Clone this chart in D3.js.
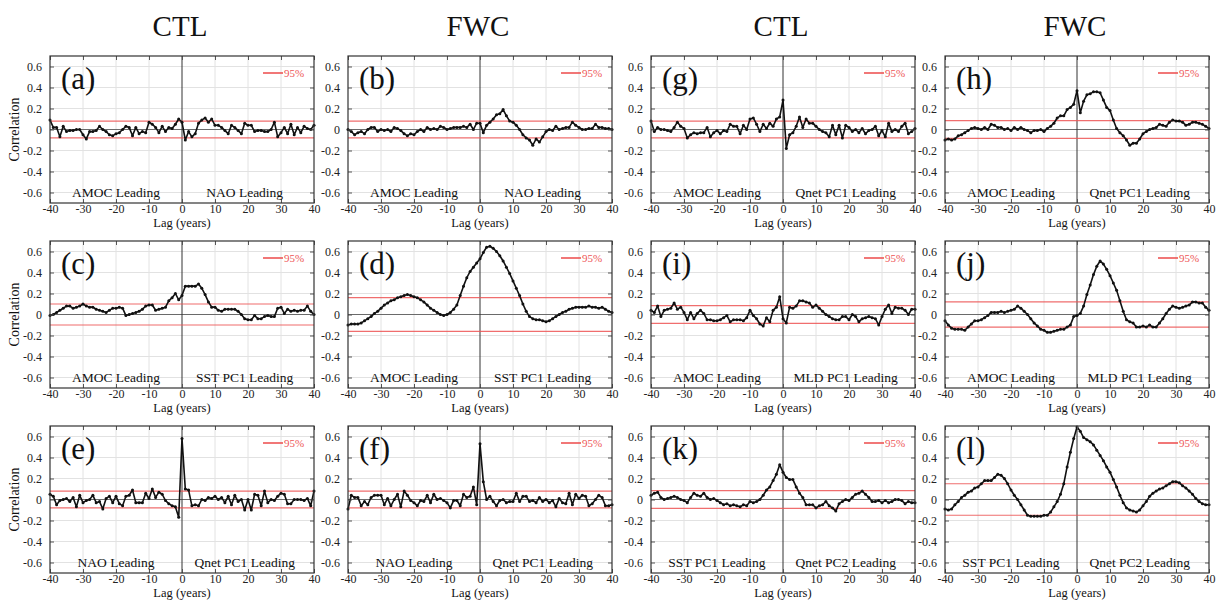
<!DOCTYPE html>
<html>
<head>
<meta charset="utf-8">
<script src="https://cdn.jsdelivr.net/npm/d3@7"></script>
<style>
  body { margin: 0; background: #fff; }
  svg { display: block; }
  text { font-family: "Liberation Serif", "Times New Roman", serif; }
</style>
</head>
<body>
<svg id="chart" width="1216" height="600"></svg>
<script>
// Lagged correlations, lag in years (-40 .. 40)
const lags = d3.range(-40, 41);
const xTicks = [-40, -30, -20, -10, 0, 10, 20, 30, 40];
const yTicks = [-0.6, -0.4, -0.2, 0, 0.2, 0.4, 0.6];
const gridX = [-30, -20, -10, 10, 20, 30];
const gridY = [-0.6, -0.4, -0.2, 0.2, 0.4, 0.6];
const columnTitles = ["CTL", "FWC", "CTL", "FWC"];

const panelIds = ["a", "b", "c", "d", "e", "f", "g", "h", "i", "j", "k", "l"];
const sig95 = [0.08, 0.08, 0.10, 0.16, 0.08, 0.08, 0.08, 0.085, 0.085, 0.12, 0.085, 0.15];
const leftLabels = ["AMOC Leading", "AMOC Leading", "AMOC Leading", "AMOC Leading", "NAO Leading", "NAO Leading",
                    "AMOC Leading", "AMOC Leading", "AMOC Leading", "AMOC Leading", "SST PC1 Leading", "SST PC1 Leading"];
const rightLabels = ["NAO Leading", "NAO Leading", "SST PC1 Leading", "SST PC1 Leading", "Qnet PC1 Leading", "Qnet PC1 Leading",
                     "Qnet PC1 Leading", "Qnet PC1 Leading", "MLD PC1 Leading", "MLD PC1 Leading", "Qnet PC2 Leading", "Qnet PC2 Leading"];

// (a) CTL: AMOC vs NAO
const corrA = [
  0.09, 0.02, 0.02, -0.07, 0.03, -0.02, -0.01, -0.01, 0.00, 0.00,
  -0.05, -0.09, -0.02, -0.02, -0.01, 0.03, 0.00, -0.02, -0.05, -0.06,
  -0.04, -0.03, 0.00, 0.03, 0.02, -0.06, 0.02, -0.04, -0.02, -0.03,
  0.07, 0.05, 0.02, -0.03, 0.03, -0.02, 0.02, 0.01, 0.05, 0.10,
  0.07,
  -0.10, -0.02, -0.07, -0.04, 0.06, 0.09, 0.11, 0.07, 0.10, 0.04,
  0.04, 0.02, -0.01, -0.04, 0.04, 0.02, -0.01, -0.04, 0.06, 0.04,
  0.04, -0.02, -0.01, -0.01, -0.02, -0.02, 0.00, 0.07, -0.07, -0.03,
  0.02, -0.04, 0.05, -0.05, 0.02, -0.03, 0.03, 0.01, 0.00, 0.04];

// (b) FWC: AMOC vs NAO
const corrB = [
  0.00, -0.02, -0.05, -0.03, -0.02, -0.04, 0.00, 0.02, 0.02, -0.02,
  0.00, -0.01, 0.00, -0.02, 0.02, 0.01, -0.01, -0.04, -0.06, -0.04,
  -0.05, -0.02, 0.00, -0.02, 0.02, 0.00, 0.01, 0.00, 0.03, 0.02,
  0.00, 0.01, 0.02, 0.02, 0.02, 0.03, 0.02, 0.05, 0.00, 0.06,
  0.06,
  -0.03, 0.04, 0.07, 0.10, 0.14, 0.15, 0.19, 0.13, 0.08, 0.07,
  0.04, 0.00, -0.05, -0.08, -0.10, -0.15, -0.09, -0.12, -0.07, -0.02,
  0.00, -0.01, 0.03, 0.00, 0.01, 0.02, 0.02, 0.07, 0.04, 0.02,
  0.00, 0.00, 0.01, 0.01, 0.05, 0.02, 0.02, 0.01, 0.01, 0.00];

// (c) CTL: AMOC vs SST PC1
const corrC = [
  -0.01, 0.00, 0.02, 0.04, 0.06, 0.08, 0.08, 0.06, 0.07, 0.08,
  0.10, 0.08, 0.07, 0.07, 0.05, 0.04, 0.03, 0.02, 0.04, 0.06,
  0.06, 0.07, 0.06, -0.01, 0.00, 0.01, 0.02, 0.03, 0.05, 0.08,
  0.09, 0.09, 0.04, 0.05, 0.06, 0.07, 0.13, 0.16, 0.20, 0.14,
  0.18,
  0.27, 0.27, 0.27, 0.27, 0.29, 0.25, 0.19, 0.12, 0.07, 0.07,
  0.04, 0.03, 0.05, 0.05, 0.05, 0.05, 0.03, 0.00, -0.04, -0.05,
  -0.05, -0.01, -0.04, -0.04, -0.02, -0.01, -0.02, -0.02, 0.06, 0.07,
  0.01, 0.05, 0.03, 0.04, 0.03, 0.04, 0.04, 0.08, 0.03, 0.00];

// (d) FWC: AMOC vs SST PC1
const corrD = [
  -0.10, -0.09, -0.09, -0.09, -0.08, -0.06, -0.04, -0.02, 0.01, 0.03,
  0.06, 0.09, 0.11, 0.13, 0.14, 0.16, 0.17, 0.18, 0.19, 0.18,
  0.17, 0.16, 0.14, 0.12, 0.09, 0.06, 0.04, 0.02, 0.00, -0.01,
  0.00, 0.02, 0.05, 0.09, 0.18, 0.27, 0.35, 0.41, 0.45, 0.49,
  0.53,
  0.59, 0.64, 0.65, 0.63, 0.60, 0.56, 0.51, 0.45, 0.39, 0.32,
  0.25, 0.18, 0.10, 0.03, -0.02, -0.04, -0.05, -0.05, -0.06, -0.07,
  -0.06, -0.04, -0.02, 0.00, 0.02, 0.03, 0.05, 0.06, 0.07, 0.07,
  0.07, 0.07, 0.08, 0.07, 0.07, 0.06, 0.07, 0.05, 0.03, 0.02];

// (e) CTL: NAO vs Qnet PC1
const corrE = [
  0.05, 0.03, -0.05, -0.01, 0.00, 0.01, -0.02, 0.02, -0.07, 0.04,
  -0.03, -0.01, 0.00, 0.04, -0.03, -0.02, -0.09, 0.01, 0.03, -0.03,
  0.03, -0.04, -0.06, 0.03, 0.04, 0.09, -0.03, -0.03, -0.03, 0.06,
  0.01, 0.10, 0.02, 0.07, 0.05, -0.01, -0.04, -0.06, -0.07, -0.17,
  0.58,
  0.10, 0.09, -0.06, -0.05, -0.06, 0.00, -0.01, 0.02, 0.01, 0.03,
  0.00, 0.02, -0.03, 0.03, -0.05, 0.04, -0.02, 0.00, -0.10, 0.00,
  -0.10, 0.05, 0.04, -0.06, 0.08, -0.03, 0.00, -0.01, 0.03, 0.06,
  0.05, -0.04, -0.04, 0.00, 0.00, 0.00, -0.01, 0.01, -0.06, 0.08];

// (f) FWC: NAO vs Qnet PC1
const corrF = [
  -0.09, 0.04, 0.02, 0.02, -0.06, -0.02, -0.05, 0.02, 0.04, 0.04,
  0.04, -0.05, 0.01, -0.06, 0.00, 0.05, -0.07, 0.08, 0.04, -0.01,
  -0.03, -0.06, -0.01, -0.02, 0.04, -0.03, 0.05, 0.00, 0.01, -0.01,
  -0.03, -0.08, -0.01, -0.01, -0.06, 0.05, 0.02, 0.03, 0.12, -0.05,
  0.53,
  0.17, 0.00, 0.03, -0.02, -0.06, -0.01, 0.00, -0.03, -0.02, -0.02,
  0.06, -0.02, 0.03, 0.03, -0.02, -0.01, -0.03, 0.02, -0.02, 0.00,
  -0.03, -0.01, -0.07, 0.01, -0.03, -0.04, 0.06, -0.05, 0.05, 0.01,
  0.04, 0.03, -0.06, -0.04, 0.00, 0.04, 0.02, -0.06, -0.06, -0.05];

// (g) CTL: AMOC vs Qnet PC1
const corrG = [
  0.08, -0.02, 0.02, 0.00, 0.00, -0.01, -0.02, 0.02, 0.07, 0.03,
  0.01, -0.08, -0.05, -0.03, -0.04, -0.03, -0.03, 0.02, -0.07, -0.03,
  -0.01, -0.04, -0.01, -0.02, 0.05, 0.03, 0.03, -0.04, 0.04, 0.00,
  0.10, 0.11, 0.05, -0.02, 0.05, 0.01, 0.06, 0.03, 0.10, 0.12,
  0.28,
  -0.18, -0.05, -0.03, 0.03, 0.12, 0.02, 0.10, 0.06, 0.06, 0.03,
  0.00, -0.02, -0.03, -0.07, 0.04, -0.05, 0.04, -0.08, 0.04, 0.02,
  -0.02, 0.00, -0.03, 0.01, -0.04, -0.01, 0.00, 0.03, -0.06, -0.01,
  -0.07, 0.06, -0.02, 0.00, -0.02, 0.03, 0.06, -0.04, -0.02, 0.01];

// (h) FWC: AMOC vs Qnet PC1
const corrH = [
  -0.10, -0.09, -0.10, -0.09, -0.06, -0.05, -0.03, -0.01, 0.01, 0.02,
  0.01, 0.00, 0.02, 0.00, 0.05, 0.04, 0.02, 0.02, 0.00, 0.01,
  -0.01, 0.02, 0.00, 0.02, 0.00, -0.01, -0.03, -0.01, -0.01, 0.00,
  -0.02, 0.01, 0.03, 0.06, 0.11, 0.13, 0.13, 0.19, 0.21, 0.24,
  0.37,
  0.16, 0.27, 0.33, 0.34, 0.36, 0.36, 0.35, 0.28, 0.21, 0.18,
  0.09, 0.01, -0.03, -0.06, -0.10, -0.15, -0.13, -0.13, -0.09, -0.04,
  -0.02, 0.00, 0.01, 0.02, 0.05, 0.04, 0.03, 0.07, 0.09, 0.08,
  0.08, 0.07, 0.04, 0.05, 0.07, 0.07, 0.06, 0.05, 0.03, 0.01];

// (i) CTL: AMOC vs MLD PC1
const corrI = [
  0.04, 0.02, 0.08, -0.02, 0.04, 0.05, 0.06, 0.11, 0.05, 0.07,
  0.02, -0.05, 0.02, -0.04, 0.01, 0.04, 0.01, -0.05, -0.05, -0.06,
  -0.06, -0.05, -0.03, -0.01, -0.07, -0.05, -0.05, -0.05, -0.06, -0.03,
  0.04, -0.01, -0.04, -0.09, -0.11, -0.03, -0.07, 0.04, 0.07, 0.17,
  -0.04,
  -0.08, 0.07, 0.06, 0.08, 0.13, 0.13, 0.12, 0.11, 0.07, 0.09,
  0.06, 0.03, 0.00, -0.02, -0.04, -0.05, -0.05, -0.02, -0.02, -0.05,
  0.00, -0.02, -0.07, -0.04, -0.03, -0.02, -0.03, -0.04, -0.10, -0.02,
  0.05, 0.09, 0.01, 0.07, 0.06, 0.06, 0.04, 0.00, 0.05, 0.05];

// (j) FWC: AMOC vs MLD PC1
const corrJ = [
  -0.06, -0.10, -0.13, -0.14, -0.14, -0.14, -0.15, -0.12, -0.09, -0.06,
  -0.06, -0.05, -0.03, -0.01, 0.02, 0.02, 0.02, 0.03, 0.02, 0.03,
  0.04, 0.05, 0.08, 0.06, 0.03, 0.00, -0.04, -0.08, -0.11, -0.14,
  -0.15, -0.17, -0.17, -0.16, -0.15, -0.14, -0.14, -0.12, -0.10, -0.02,
  -0.01,
  0.01, 0.08, 0.19, 0.28, 0.38, 0.46, 0.51, 0.48, 0.43, 0.37,
  0.30, 0.23, 0.13, 0.03, -0.05, -0.07, -0.08, -0.12, -0.12, -0.11,
  -0.12, -0.10, -0.12, -0.12, -0.08, -0.04, 0.01, 0.05, 0.08, 0.07,
  0.06, 0.07, 0.08, 0.09, 0.12, 0.12, 0.11, 0.11, 0.07, 0.04];

// (k) CTL: SST PC1 vs Qnet PC2
const corrK = [
  0.04, 0.06, 0.07, 0.02, 0.00, 0.01, 0.02, 0.03, 0.02, 0.00,
  -0.01, -0.03, 0.02, 0.06, 0.04, 0.03, 0.06, 0.02, 0.00, 0.01,
  -0.01, -0.03, -0.05, -0.04, -0.06, -0.05, -0.06, -0.07, -0.05, -0.06,
  -0.02, -0.03, -0.02, 0.00, 0.04, 0.09, 0.12, 0.18, 0.24, 0.33,
  0.26,
  0.21, 0.19, 0.19, 0.12, 0.06, 0.02, -0.05, -0.05, -0.05, -0.08,
  -0.06, -0.05, -0.02, -0.06, -0.08, -0.11, -0.04, -0.02, 0.00, -0.01,
  0.02, 0.05, 0.06, 0.08, 0.05, 0.02, -0.02, -0.02, -0.01, -0.03,
  -0.01, -0.03, -0.02, 0.00, 0.00, -0.01, -0.04, -0.02, -0.03, -0.03];

// (l) FWC: SST PC1 vs Qnet PC2
const corrL = [
  -0.09, -0.10, -0.09, -0.05, -0.02, 0.02, 0.04, 0.07, 0.08, 0.11,
  0.12, 0.15, 0.18, 0.18, 0.18, 0.21, 0.24, 0.23, 0.20, 0.15,
  0.09, 0.04, 0.00, -0.05, -0.10, -0.15, -0.16, -0.16, -0.16, -0.16,
  -0.15, -0.15, -0.12, -0.07, -0.02, 0.05, 0.15, 0.31, 0.45, 0.58,
  0.69,
  0.65, 0.59, 0.57, 0.55, 0.52, 0.47, 0.42, 0.37, 0.31, 0.26,
  0.19, 0.12, 0.04, -0.03, -0.08, -0.10, -0.11, -0.12, -0.10, -0.06,
  -0.02, 0.03, 0.06, 0.08, 0.10, 0.11, 0.13, 0.15, 0.17, 0.17,
  0.16, 0.13, 0.11, 0.08, 0.05, 0.01, -0.02, -0.04, -0.05, -0.05];

const series = [corrA, corrB, corrC, corrD, corrE, corrF, corrG, corrH, corrI, corrJ, corrK, corrL];

// ---- layout ----
const colLeft = [50, 348, 651, 945];
const rowTop = [56, 241, 426];
const plotW = 264, plotH = 147;
const red = "#ee5555";
const serif = '"Liberation Serif", "Times New Roman", serif';

const svg = d3.select("#chart");

// column titles
columnTitles.forEach((t, c) => {
  svg.append("text")
    .attr("x", colLeft[c] + plotW / 2 - 2)
    .attr("y", 36)
    .attr("text-anchor", "middle")
    .attr("font-size", 29)
    .attr("fill", "#111")
    .text(t);
});

const x = d3.scaleLinear().domain([-40, 40]).range([0, plotW]);
const y = d3.scaleLinear().domain([-0.7, 0.7]).range([plotH, 0]);

panelIds.forEach((id, i) => {
  const k = i < 6 ? i : i - 6;
  const row = Math.floor(k / 2);
  const col = (i < 6 ? 0 : 2) + (k % 2);
  const g = svg.append("g").attr("transform", `translate(${colLeft[col]},${rowTop[row]})`);
  const vals = series[i];
  const pts = lags.map((l, j) => ({ lag: l, r: vals[j] }));

  // grid
  g.append("g").selectAll("line").data(gridX).join("line")
    .attr("x1", d => x(d)).attr("x2", d => x(d))
    .attr("y1", 0).attr("y2", plotH)
    .attr("stroke", "#e2e2e2").attr("stroke-width", 1);
  g.append("g").selectAll("line").data(gridY).join("line")
    .attr("x1", 0).attr("x2", plotW)
    .attr("y1", d => y(d)).attr("y2", d => y(d))
    .attr("stroke", "#e2e2e2").attr("stroke-width", 1);

  // zero lines
  g.append("line").attr("x1", 0).attr("x2", plotW).attr("y1", y(0)).attr("y2", y(0))
    .attr("stroke", "#6a6a6a").attr("stroke-width", 1);
  g.append("line").attr("x1", x(0)).attr("x2", x(0)).attr("y1", 0).attr("y2", plotH)
    .attr("stroke", "#333").attr("stroke-width", 1);

  // 95% significance levels
  [sig95[i], -sig95[i]].forEach(s => {
    g.append("line").attr("x1", 0).attr("x2", plotW).attr("y1", y(s)).attr("y2", y(s))
      .attr("stroke", red).attr("stroke-width", 1.2).attr("opacity", 0.85);
  });

  // correlation curve with point markers
  const line = d3.line().x(d => x(d.lag)).y(d => y(d.r));
  g.append("path").datum(pts)
    .attr("d", line).attr("fill", "none")
    .attr("stroke", "#111").attr("stroke-width", 1.6).attr("stroke-linejoin", "round");
  g.append("g").selectAll("circle").data(pts).join("circle")
    .attr("cx", d => x(d.lag)).attr("cy", d => y(d.r)).attr("r", 1.5)
    .attr("fill", "#111");

  // axes with inward ticks
  const yAxis = d3.axisLeft(y).tickValues(yTicks).tickSize(-4).tickPadding(8)
    .tickFormat(d => d === 0 ? "0" : d.toFixed(1));
  const xAxis = d3.axisBottom(x).tickValues(xTicks).tickSize(-4).tickPadding(1)
    .tickFormat(d => String(d));
  const ya = g.append("g").call(yAxis);
  const xa = g.append("g").attr("transform", `translate(0,${plotH})`).call(xAxis);
  const yr = g.append("g").attr("transform", `translate(${plotW},0)`)
    .call(d3.axisRight(y).tickValues(yTicks).tickSize(-4).tickFormat(""));
  const xt = g.append("g")
    .call(d3.axisTop(x).tickValues(xTicks).tickSize(-4).tickFormat(""));
  [ya, xa, yr, xt].forEach(a => {
    a.select(".domain").remove();
    a.selectAll(".tick line").attr("stroke", "#555");
  });
  ya.selectAll("text").attr("font-size", 12).attr("fill", "#222").attr("font-family", serif);
  xa.selectAll("text").attr("font-size", 12).attr("fill", "#222").attr("font-family", serif);

  // frame
  g.append("rect").attr("x", 0).attr("y", 0).attr("width", plotW).attr("height", plotH)
    .attr("fill", "none").attr("stroke", "#333").attr("stroke-width", 1.2);

  // legend
  g.append("line").attr("x1", plotW - 51).attr("x2", plotW - 31)
    .attr("y1", 17).attr("y2", 17).attr("stroke", red).attr("stroke-width", 1.6);
  g.append("text").attr("x", plotW - 30).attr("y", 20.5)
    .attr("font-size", 11).attr("fill", red).text("95%");

  // panel letter
  g.append("text").attr("x", 11).attr("y", 33)
    .attr("font-size", 31).attr("fill", "#111").text(`(${id})`);

  // leading labels
  g.append("text").attr("x", x(-20)).attr("y", y(-0.64))
    .attr("text-anchor", "middle").attr("font-size", 13.5).attr("fill", "#111")
    .text(leftLabels[i]);
  g.append("text").attr("x", x(19)).attr("y", y(-0.64))
    .attr("text-anchor", "middle").attr("font-size", 13.5).attr("fill", "#111")
    .text(rightLabels[i]);

  // axis titles
  g.append("text").attr("x", plotW / 2).attr("y", plotH + 24)
    .attr("text-anchor", "middle").attr("font-size", 12.5).attr("fill", "#111")
    .text("Lag (years)");
  if (col === 0) {
    g.append("text")
      .attr("transform", `translate(${-31},${y(0)}) rotate(-90)`)
      .attr("text-anchor", "middle").attr("font-size", 14).attr("fill", "#111")
      .text("Correlation");
  }
});
</script>
</body>
</html>
